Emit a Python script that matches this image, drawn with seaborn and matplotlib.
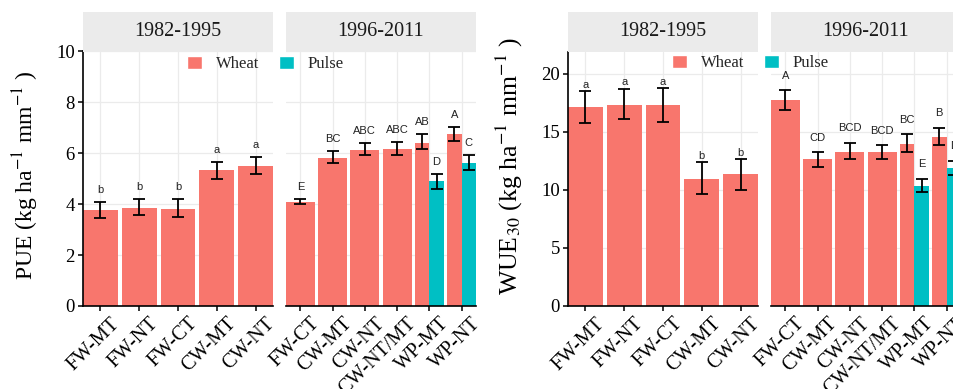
import numpy as np
import pandas as pd
import matplotlib
matplotlib.use("Agg")
import matplotlib.pyplot as plt
import matplotlib.transforms as mtransforms
import seaborn as sns
from matplotlib.patches import Patch

# Groups on the x axis of each facet
early_groups = ["FW-MT", "FW-NT", "FW-CT", "CW-MT", "CW-NT"]
late_groups = ["FW-CT", "CW-MT", "CW-NT", "CW-NT/MT", "WP-MT", "WP-NT"]
pulse_groups = ["WP-MT", "WP-NT"]
periods = ["1982-1995", "1996-2011"]

# PUE (kg ha-1 mm-1)
pue_early = [3.76, 3.87, 3.82, 5.33, 5.50]
pue_early_lo = [3.44, 3.57, 3.48, 5.00, 5.20]
pue_early_hi = [4.10, 4.20, 4.20, 5.66, 5.86]
pue_early_sig = ["b", "b", "b", "a", "a"]
pue_late_wheat = [4.07, 5.83, 6.14, 6.17, 6.42, 6.75]
pue_late_wheat_lo = [4.00, 5.60, 5.92, 5.92, 6.16, 6.48]
pue_late_wheat_hi = [4.21, 6.08, 6.40, 6.46, 6.75, 7.03]
pue_late_wheat_sig = ["E", "BC", "ABC", "ABC", "AB", "A"]
pue_late_pulse = [4.91, 5.60]
pue_late_pulse_lo = [4.61, 5.33]
pue_late_pulse_hi = [5.20, 5.92]
pue_late_pulse_sig = ["D", "C"]

# WUE30 (kg ha-1 mm-1)
wue_early = [17.13, 17.33, 17.28, 10.92, 11.35]
wue_early_lo = [15.79, 16.07, 15.84, 9.63, 9.97]
wue_early_hi = [18.50, 18.71, 18.77, 12.35, 12.63]
wue_early_sig = ["a", "a", "a", "b", "b"]
wue_late_wheat = [17.71, 12.61, 13.26, 13.21, 13.98, 14.55]
wue_late_wheat_lo = [16.85, 11.92, 12.63, 12.63, 13.21, 13.84]
wue_late_wheat_hi = [18.56, 13.21, 14.04, 13.84, 14.78, 15.36]
wue_late_wheat_sig = ["A", "CD", "BCD", "BCD", "BC", "B"]
wue_late_pulse = [10.34, 11.89]
wue_late_pulse_lo = [9.77, 11.30]
wue_late_pulse_hi = [10.97, 12.49]
wue_late_pulse_sig = ["E", "D"]

wheat_color = "#F8766D"
pulse_color = "#00BFC4"
palette = {"Wheat": wheat_color, "Pulse": pulse_color}

sns.set_style("white")
plt.rcParams["font.family"] = ["Liberation Serif", "DejaVu Serif"]
plt.rcParams["mathtext.fontset"] = "stix"

W, H = 954, 389
fig = plt.figure(figsize=(W / 100, H / 100), dpi=100)


def px_axes(x0, x1, y0, y1):
    return fig.add_axes([x0 / W, 1 - y1 / H, (x1 - x0) / W, (y1 - y0) / H])


def make_df(groups, crop, mean, lo, hi, sig):
    return pd.DataFrame({"group": groups, "crop": crop, "mean": mean,
                         "lo": lo, "hi": hi, "sig": sig})


def draw_panel(ax, df, order, ylim, yticks, first, sig_off):
    single = df[~df["group"].isin(pulse_groups)]
    paired = df[df["group"].isin(pulse_groups)]
    if len(single):
        sns.barplot(data=single, x="group", y="mean", order=order, color=wheat_color,
                    saturation=1, width=0.9, errorbar=None, linewidth=0, ax=ax)
    if len(paired):
        sns.barplot(data=paired, x="group", y="mean", hue="crop", order=order,
                    hue_order=["Wheat", "Pulse"], palette=palette, dodge=True,
                    saturation=1, width=0.9, errorbar=None, linewidth=0,
                    legend=False, ax=ax)
    # error bars and letters placed on the drawn bars
    for p in list(ax.patches):
        h = p.get_height()
        row = df.iloc[(df["mean"] - h).abs().argmin()]
        x = p.get_x() + p.get_width() / 2
        ax.errorbar(x, h, yerr=[[h - row["lo"]], [row["hi"] - h]], fmt="none",
                    ecolor="black", elinewidth=1.3, capsize=4.3, capthick=1.3, zorder=4)
        ax.annotate(row["sig"], (x, row["hi"]), xytext=(0, sig_off),
                    textcoords="offset points", ha="center", va="center",
                    fontsize=8, family="Liberation Sans", color="#222222")
    n = len(order)
    ax.set_xlim(-0.45, n - 0.55)
    ax.set_ylim(*ylim)
    ax.set_yticks(yticks)
    ax.set_xticks(range(n))
    ax.set_xlabel("")
    ax.set_ylabel("")
    ax.grid(True, color="#EBEBEB", linewidth=0.9)
    ax.set_axisbelow(True)
    for s in ["top", "right"]:
        ax.spines[s].set_visible(False)
    ax.spines["bottom"].set_color("black")
    ax.spines["bottom"].set_linewidth(1.2)
    ax.tick_params(axis="x", length=3.8, width=1.1, color="black", pad=2,
                   bottom=True, labelcolor="black")
    if first:
        ax.spines["left"].set_color("black")
        ax.spines["left"].set_linewidth(1.2)
        ax.tick_params(axis="y", length=3.8, width=1.1, color="black", pad=2,
                       left=True, labelsize=13.5, labelcolor="black")
    else:
        ax.spines["left"].set_visible(False)
        ax.tick_params(axis="y", left=False, labelleft=False)
    # rotated labels, nudged right as in the original figure
    ax.set_xticklabels(order, rotation=45, ha="right", va="top",
                       rotation_mode="anchor", fontsize=14.5)
    shift = mtransforms.ScaledTranslation(7 / 72, 0, fig.dpi_scale_trans)
    for lab in ax.get_xticklabels():
        lab.set_transform(lab.get_transform() + shift)


def draw_strip(x0, x1, label):
    sax = px_axes(x0, x1, 11.5, 51.5)
    sax.set_facecolor("#EBEBEB")
    for s in sax.spines.values():
        s.set_visible(False)
    sax.set_xticks([])
    sax.set_yticks([])
    sax.text(0.5, 0.5, label, ha="center", va="center", fontsize=14.5,
             color="#1A1A1A", transform=sax.transAxes)


charts = [
    {
        "x": [(83, 273), (286, 476)],
        "early": make_df(early_groups, "Wheat", pue_early, pue_early_lo, pue_early_hi, pue_early_sig),
        "late": pd.concat([
            make_df(late_groups, "Wheat", pue_late_wheat, pue_late_wheat_lo, pue_late_wheat_hi, pue_late_wheat_sig),
            make_df(pulse_groups, "Pulse", pue_late_pulse, pue_late_pulse_lo, pue_late_pulse_hi, pue_late_pulse_sig),
        ], ignore_index=True),
        "ylim": (0, 10), "yticks": [0, 2, 4, 6, 8, 10], "sig": (8.6, 8.6),
        "label": "PUE (kg ha$^{-1}$ mm$^{-1}$ )", "label_xy": (26, 175), "label_size": 17,
        "legend_xy": (265.5, 64),
    },
    {
        "x": [(568, 758), (771, 961)],
        "early": make_df(early_groups, "Wheat", wue_early, wue_early_lo, wue_early_hi, wue_early_sig),
        "late": pd.concat([
            make_df(late_groups, "Wheat", wue_late_wheat, wue_late_wheat_lo, wue_late_wheat_hi, wue_late_wheat_sig),
            make_df(pulse_groups, "Pulse", wue_late_pulse, wue_late_pulse_lo, wue_late_pulse_hi, wue_late_pulse_sig),
        ], ignore_index=True),
        "ylim": (0, 21.9), "yticks": [0, 5, 10, 15, 20], "sig": (4.5, 10.5),
        "label": "WUE$_{30}$ (kg ha$^{-1}$ mm$^{-1}$ )", "label_xy": (509, 166), "label_size": 18.5,
        "legend_xy": (750.5, 63),
    },
]

for c in charts:
    (a0, a1), (b0, b1) = c["x"]
    ax1 = px_axes(a0, a1, 51.5, 306)
    ax2 = px_axes(b0, b1, 51.5, 306)
    draw_panel(ax1, c["early"], early_groups, c["ylim"], c["yticks"], True, c["sig"][0])
    draw_panel(ax2, c["late"], late_groups, c["ylim"], c["yticks"], False, c["sig"][1])
    draw_strip(a0, a1, periods[0])
    draw_strip(b0, b1, periods[1])
    lx, ly = c["label_xy"]
    fig.text(lx / W, 1 - ly / H, c["label"], rotation=90, ha="center", va="center",
             fontsize=c["label_size"], color="black")
    handles = [Patch(facecolor=wheat_color), Patch(facecolor=pulse_color)]
    gx, gy = c["legend_xy"]
    fig.legend(handles, ["Wheat", "Pulse"], ncol=2, loc="center",
               bbox_to_anchor=(gx / W, 1 - gy / H), frameon=False, fontsize=12,
               handlelength=0.9, handleheight=0.85, handletextpad=0.85,
               columnspacing=1.15, borderpad=0, borderaxespad=0)

fig.savefig("out.png", dpi=100)
